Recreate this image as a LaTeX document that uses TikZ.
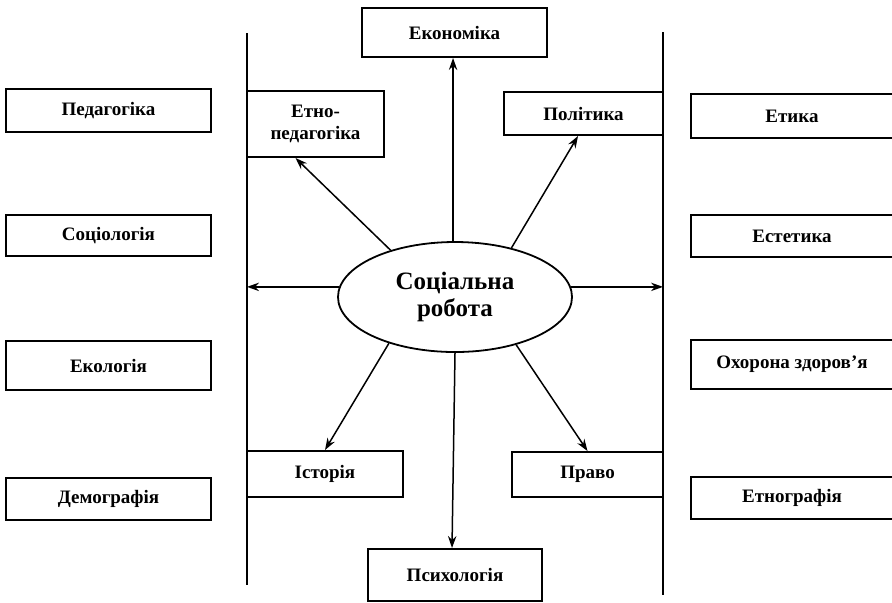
\documentclass[tikz,border=0pt]{standalone}
\usepackage{fontspec}
\setmainfont{Liberation Serif}
\usetikzlibrary{arrows.meta,shapes.geometric,positioning}

\begin{document}
\begin{tikzpicture}[x=0.5pt,y=-0.5pt,>={Stealth[length=6pt,width=4.2pt,inset=2pt]},on grid,
        discipline/.style={draw,rectangle,line width=1pt,inner sep=0pt,align=center,
            font=\fontsize{9.5}{11.4}\selectfont\bfseries},
        hub/.style={draw,ellipse,line width=0.9pt,inner sep=0pt,align=center,
            minimum width=117pt,minimum height=55pt,
            font=\fontsize{12.5}{13.5}\selectfont\bfseries}]

        \useasboundingbox (0,0) rectangle (892,602);
        \clip (0,0) rectangle (892,602);

        % two borders
        \coordinate (l_top) at (247,33);
        \coordinate (l_bot) at (247,585);
        \coordinate (r_top) at (663,32);
        \coordinate (r_bot) at (663,595);
        \draw[line width=1pt] (l_top) -- (l_bot);
        \draw[line width=1pt] (r_top) -- (r_bot);

        % left column
        \node[discipline,minimum width=102.5pt,minimum height=21.5pt] (ped) at (108.5,110.5) {Педагогіка};
        \node[discipline,minimum width=102.5pt,minimum height=20.5pt] (soc) [below=62.5pt of ped] {Соціологія};
        \node[discipline,minimum width=102.5pt,minimum height=24.5pt] (ekol) [below=65pt of soc] {Екологія};
        \node[discipline,minimum width=102.5pt,minimum height=21pt] (dem) [below=66.75pt of ekol] {Демографія};

        % right column
        \node[discipline,minimum width=101.5pt,minimum height=22pt] (etyka) at (792,116) {Етика};
        \node[discipline,minimum width=101.5pt,minimum height=21pt] (estet) [below=60pt of etyka] {Естетика};
        \node[discipline,minimum width=101.5pt,minimum height=24.5pt] (ohor) [below=64.25pt of estet] {Охорона здоров’я};
        \node[discipline,minimum width=101.5pt,minimum height=21pt] (etnogr) [below=66.75pt of ohor] {Етнографія};

        % centre
        \node[hub] (sr) at (455,297) {Соціальна\\робота};
        \node[discipline,minimum width=92.5pt,minimum height=24.5pt] (econ) at (454.5,32.5) {Економіка};
        \node[discipline,minimum width=68.5pt,minimum height=33pt] (etno) at (315.5,124) {Етно-\\педагогіка};
        \node[discipline,minimum width=79.5pt,minimum height=21.5pt] (polit) at (583.5,113.5) {Політика};
        \node[discipline,minimum width=78pt,minimum height=23pt] (hist) at (325,474) {Історія};
        \node[discipline,minimum width=75.5pt,minimum height=22.5pt] (pravo) at (587.5,474.5) {Право};
        \node[discipline,minimum width=87pt,minimum height=26pt] (psych) at (455,575) {Психологія};

        \path[->,line width=0.75pt]
        (sr.92) edge (sr.92 |- econ.south)
        (sr.144) edge ([xshift=-10pt]etno.south)
        (sr.41) edge ([xshift=-2.75pt]polit.south)
        (sr.175) edge (sr.175 -| l_top)
        (sr.5) edge (sr.5 -| r_top)
        (sr.215) edge (hist.north)
        (sr.322) edge (pravo.north)
        (sr.south) edge ([xshift=-1.5pt]psych.north);

    \end{tikzpicture}
\end{document}
